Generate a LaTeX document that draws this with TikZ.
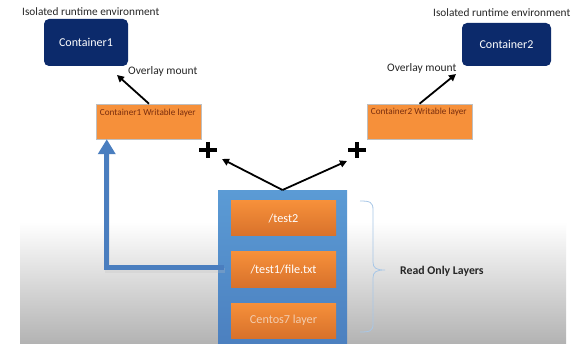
\documentclass[tikz,border=0pt]{standalone}
\usepackage{fontspec}
\setmainfont{Carlito}
\usetikzlibrary{arrows.meta,calc}
\definecolor{navy}{HTML}{0C2A6B}
\definecolor{layerorange}{HTML}{F6903A}
\definecolor{layerdark}{HTML}{D8712B}
\definecolor{stackblue}{HTML}{5B9BD5}
\definecolor{stackdeep}{HTML}{4A7DBD}
\definecolor{copyblue}{HTML}{4A7EBF}
\definecolor{bracecol}{HTML}{A8C7E7}
\definecolor{writetext}{HTML}{7A2E0E}
\definecolor{fadedtext}{HTML}{F2CDB0}
\tikzset{
  container/.style={fill=navy, rounded corners=5pt, text=white, font=\fontsize{12}{14}\selectfont, inner sep=0pt},
  writable/.style={fill=layerorange, draw=black!25, line width=0.5pt, minimum width=105pt, minimum height=35pt, inner sep=0pt},
  rolayer/.style={top color=layerorange, bottom color=layerdark, minimum width=105pt, minimum height=35pt, inner sep=0pt, text=white, font=\fontsize{12.2}{14}\selectfont},
  caption/.style={font=\fontsize{11.3}{13}\selectfont, text=black!85, inner sep=0pt, anchor=west},
  mountarrow/.style={line width=1.8pt, -{Triangle[length=7pt,width=7pt]}},
  plussign/.style={line width=4.5pt},
  copyarrow/.style={copyblue, line width=5pt, -{Triangle[length=15pt,width=17pt]}},
}
\begin{document}
\begin{tikzpicture}[x=1pt, y=-1pt]
\useasboundingbox (0,0) rectangle (572,344);
% page background: white above, grey fade towards the bottom
\fill[white] (0,0) rectangle (572,344);
\shade[top color=white, bottom color=black!30] (20,222) rectangle (566,344);

% runtime environments
\node[caption] (env1) at (22,12) {Isolated runtime environment};
\node[caption] (env2) at (433,13) {Isolated runtime environment};
\node[container, minimum width=84pt, minimum height=47pt] (c1) at (86,42.5) {Container1};
\node[container, minimum width=89pt, minimum height=43pt] (c2) at (506.5,44.5) {Container2};

% writable layers
\node[writable] (w1) at (148.5,121.5) {};
\node[writable] (w2) at (419.5,121.5) {};
\node[anchor=west, inner sep=0pt, text=writetext, font=\fontsize{9.2}{11}\selectfont] at ($(w1.north west)+(4,9)$) {Container1 Writable layer};
\node[anchor=west, inner sep=0pt, text=writetext, font=\fontsize{9.2}{11}\selectfont] at ($(w2.north west)+(4,8)$) {Container2 Writable layer};

% overlay mounts
\node[caption, font=\fontsize{11.5}{13}\selectfont] (ov1) at (128,71) {Overlay mount};
\node[caption, font=\fontsize{11.5}{13}\selectfont] (ov2) at (387,68.5) {Overlay mount};
\coordinate (m1) at (117,75);
\coordinate (m2) at (456,74);
\draw[mountarrow] (w1.north) ++(0.5,0) -- (m1);
\draw[mountarrow] (w2.north) ++(0,0) -- (m2);

% read-only image stack
\node[top color=stackblue, bottom color=stackdeep, minimum width=129pt, minimum height=170pt, inner sep=0pt, anchor=north] (stack) at (282.5,190) {};
\node[rolayer] (t2) at (283.5,218.5) {/test2};
\node[rolayer] (t1) at (283.5,269.5) {/test1/file.txt};
\node[rolayer, text=fadedtext] (cos) at (283.5,320.5) {Centos7 layer};

% union of layers
\coordinate (p1) at (208,150);
\coordinate (p2) at (357,150);
\draw[plussign] ($(p1)+(-9,0)$) -- ($(p1)+(9,0)$) ($(p1)+(0,-8)$) -- ($(p1)+(0,8)$);
\draw[plussign] ($(p2)+(-9,0)$) -- ($(p2)+(9,0)$) ($(p2)+(0,-8)$) -- ($(p2)+(0,8)$);
\coordinate (a1) at (222,159);
\coordinate (a2) at (347,161);
\draw[mountarrow] (stack.north) -- (a1);
\draw[mountarrow] (stack.north) -- (a2);

% copy-up of the file into the writable layer
\draw[black!25, line width=5pt, opacity=0.25] ($(t1.west)+(-6,1.5)$) -| ($(w1.south west)+(11.5,14)$);
\draw[copyarrow] ($(t1.west)+(-7,-2)$) -| ($(w1.south west)+(11,0)$);

% read-only brace
\draw[bracecol, line width=0.8pt]
  (360,201) .. controls (370,201) and (373,202) .. (373,210)
  -- (373,262) .. controls (373,268) and (376,270) .. (385,270)
  (373,278) .. controls (373,272) and (376,270) .. (385,270)
  (373,278) -- (373,324) .. controls (373,331) and (370,332) .. (360,332);
\node[caption, font=\bfseries\fontsize{11.8}{13}\selectfont] (ro) at (400,271) {Read Only Layers};
\end{tikzpicture}
\end{document}
